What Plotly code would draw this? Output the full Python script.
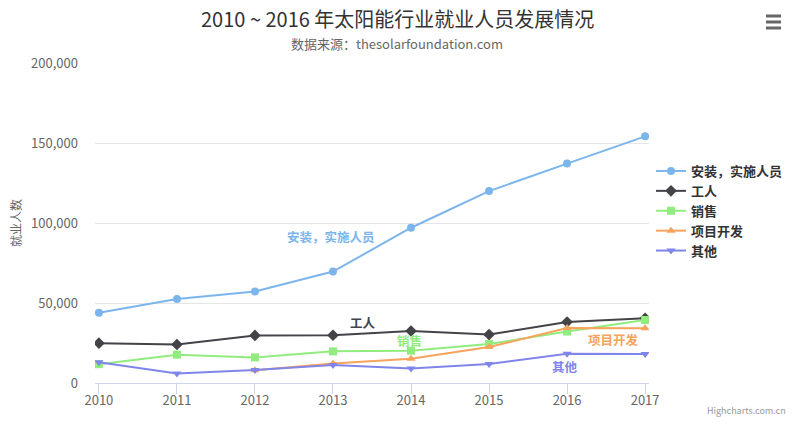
import plotly.graph_objects as go

years = [2010, 2011, 2012, 2013, 2014, 2015, 2016, 2017]
series_names = ["安装，实施人员", "工人", "销售", "项目开发", "其他"]
installation = [43934, 52503, 57177, 69658, 97031, 119931, 137133, 154175]
manufacturing = [24916, 24064, 29742, 29851, 32490, 30282, 38121, 40434]
sales = [11744, 17722, 16005, 19771, 20185, 24377, 32147, 39387]
project_dev = [None, None, 7988, 12169, 15112, 22452, 34400, 34227]
other = [12908, 5948, 8105, 11248, 8989, 11816, 18274, 18111]
y_ticks = [0, 50000, 100000, 150000, 200000]

colors = ["#7cb5ec", "#434348", "#90ed7d", "#f7a35c", "#8085e9"]
symbols = ["circle", "diamond", "square", "triangle-up", "triangle-down"]
values = [installation, manufacturing, sales, project_dev, other]
msizes = [8, 9, 8, 8, 8]

FONT = "Noto Sans CJK SC, Noto Sans, sans-serif"

# page body margin is removed by post_script, so layout is in page pixels
W, H = 800, 428
PL, PR, PT, PB = 95, 649, 63, 383  # plot area in page pixels
L, T = PL, PT
R, B = W - PR, H - PB
pw, ph = PR - PL, PB - PT

def px(xp):
    return (xp - PL) / pw

def py(yp):
    return (PB - yp) / ph

fig = go.Figure()
for name, vals, c, s, ms in zip(series_names, values, colors, symbols, msizes):
    fig.add_trace(go.Scatter(
        x=years, y=vals, name="<b>%s</b>" % name, mode="lines+markers",
        line=dict(color=c, width=2),
        marker=dict(color=c, symbol=s, size=ms),
        connectgaps=False,
    ))

# in-chart series labels (x, y in data coords)
label_pos = [(2012.97, 91800), (2013.38, 38100), (2013.98, 26300), (2016.59, 27500), (2015.97, 10600)]
for name, (lx, ly), c in zip(series_names, label_pos, colors):
    fig.add_annotation(x=lx, y=ly, xref="x", yref="y", text="<b>%s</b>" % name,
                       showarrow=False, font=dict(color=c, size=12.5, family=FONT))

# hamburger menu icon
for yy in (16, 22, 28):
    fig.add_shape(type="line", xref="paper", yref="paper",
                  x0=px(766), x1=px(781), y0=py(yy), y1=py(yy),
                  line=dict(color="#666666", width=3))

fig.add_annotation(xref="paper", yref="paper", x=px(397), y=py(18), text="2010 ~ 2016 年太阳能行业就业人员发展情况",
                   showarrow=False, font=dict(size=20, color="#333333", family=FONT),
                   xanchor="center", yanchor="middle")
fig.add_annotation(xref="paper", yref="paper", x=px(397), y=py(43), text="数据来源：thesolarfoundation.com",
                   showarrow=False, font=dict(size=13, color="#666666", family=FONT), xanchor="center", yanchor="middle")
fig.add_annotation(xref="paper", yref="paper", x=px(788), y=py(410), text="Highcharts.com.cn",
                   showarrow=False, font=dict(size=9, color="#999999", family=FONT), xanchor="right", yanchor="middle")
fig.add_annotation(xref="paper", yref="paper", x=px(15), y=py(223), text="就业人数", textangle=-90,
                   showarrow=False, font=dict(size=12, color="#666666", family=FONT), xanchor="center", yanchor="middle")

fig.update_layout(
    width=W, height=H,
    margin=dict(l=L, r=R, t=T, b=B, autoexpand=False),
    paper_bgcolor="white", plot_bgcolor="white",
    font=dict(family=FONT, color="#666666"),
    showlegend=True,
    legend=dict(x=px(651), y=py(156), xanchor="left", yanchor="top",
                font=dict(size=13, color="#333333", family=FONT),
                tracegroupgap=0, itemwidth=30, bgcolor="rgba(0,0,0,0)"),
    xaxis=dict(range=[2010 - 0.05, 2017 + 0.05], tickvals=years, ticktext=[str(y) for y in years],
               showgrid=False, showline=True, linecolor="#ccd6eb", linewidth=1,
               ticks="outside", ticklen=10, tickcolor="#ccd6eb", automargin=False,
               ticklabelstandoff=-5,
               tickfont=dict(size=13, color="#666666"), zeroline=False),
    yaxis=dict(range=[0, 200000], tickvals=y_ticks, tickformat=",", automargin=False,
               showgrid=True, gridcolor="#e6e6e6", gridwidth=1, zeroline=False,
               showline=False, ticks="", tickfont=dict(size=13, color="#666666"),
               ticklabelstandoff=16),
)

fig.write_html("out.html", config={"displayModeBar": False},
               post_script="document.body.style.margin='0';")
